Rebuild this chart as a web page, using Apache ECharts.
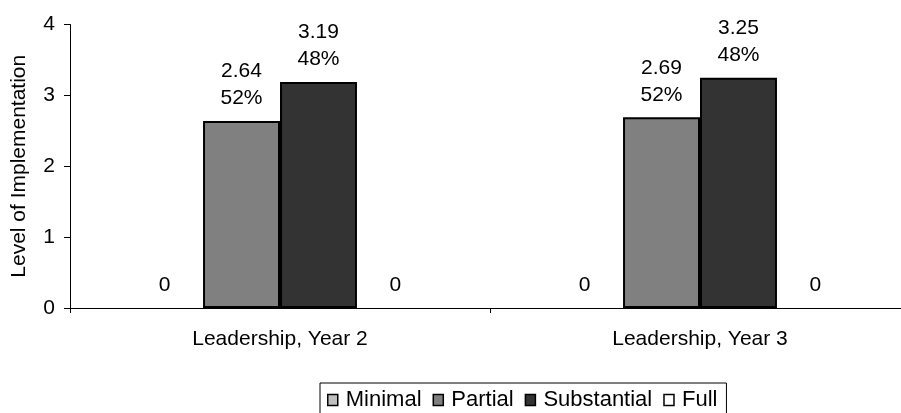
<!DOCTYPE html>
<html>
<head>
<meta charset="utf-8">
<script src="https://cdn.jsdelivr.net/npm/echarts@6/dist/echarts.min.js"></script>
<style>html,body{margin:0;padding:0;background:#fff;overflow:hidden;width:901px;height:413px;}#c{width:910px;height:413px;}</style>
</head>
<body>
<div id="c"></div>
<script>
var categories = ['Leadership, Year 2', 'Leadership, Year 3'];
var seriesNames = ['Minimal', 'Partial', 'Substantial', 'Full'];
var minimal = [0, 0];
var partial = [2.64, 2.69];
var substantial = [3.19, 3.25];
var full = [0, 0];
var partialPct = ['52%', '52%'];
var substantialPct = ['48%', '48%'];
var yTicks = [0, 1, 2, 3, 4];
var colors = ['#c0c0c0', '#808080', '#333333', '#ffffff'];

var FONT = 'Liberation Sans, Arial, sans-serif';
var FS = 21;
var chart = echarts.init(document.getElementById('c'), null, {renderer: 'canvas'});

function mk(name, data, pct, color, bw) {
  return {
    name: name,
    type: 'bar',
    data: data,
    barGap: '0%',
    barCategoryGap: '26.7%',
    itemStyle: {color: color, borderColor: '#000', borderWidth: bw},
    label: {
      show: true,
      position: 'top',
      distance: 9,
      color: '#000',
      fontSize: FS,
      fontFamily: FONT,
      lineHeight: 27,
      formatter: function (p) {
        return pct ? p.value.toFixed(2) + '\n' + pct[p.dataIndex] : String(p.value);
      }
    }
  };
}

chart.setOption({
  animation: false,
  textStyle: {fontFamily: FONT},
  grid: {left: 70, right: 0, top: 24.5, bottom: 105, containLabel: false},
  legend: {
    data: seriesNames,
    icon: 'rect',
    left: 320,
    top: 383,
    itemWidth: 10,
    itemHeight: 11,
    itemGap: 11,
    padding: [6, 9, 6, 7],
    borderColor: '#000',
    borderWidth: 1,
    textStyle: {fontSize: 22, color: '#000', fontFamily: FONT, padding: [0, 0, 0, 3]},
    itemStyle: {borderColor: '#000', borderWidth: 1.5}
  },
  xAxis: {
    type: 'category',
    data: categories,
    axisLine: {lineStyle: {color: '#000', width: 1}},
    axisTick: {show: true, length: 5, lineStyle: {color: '#000'}},
    axisLabel: {fontSize: FS, color: '#000', margin: 21, fontFamily: FONT}
  },
  yAxis: {
    type: 'value',
    min: yTicks[0],
    max: yTicks[yTicks.length - 1],
    interval: 1,
    name: 'Level of Implementation',
    nameLocation: 'middle',
    nameGap: 40,
    nameTextStyle: {fontSize: FS, color: '#000', fontFamily: FONT},
    axisLine: {show: true, lineStyle: {color: '#000', width: 1}},
    axisTick: {show: true, length: 6, lineStyle: {color: '#000'}},
    axisLabel: {fontSize: FS, color: '#000', margin: 15, fontFamily: FONT},
    splitLine: {show: false}
  },
  series: [
    mk(seriesNames[0], minimal, null, colors[0], 0),
    mk(seriesNames[1], partial, partialPct, colors[1], 2),
    mk(seriesNames[2], substantial, substantialPct, colors[2], 2),
    mk(seriesNames[3], full, null, colors[3], 0)
  ]
});
</script>
</body>
</html>
